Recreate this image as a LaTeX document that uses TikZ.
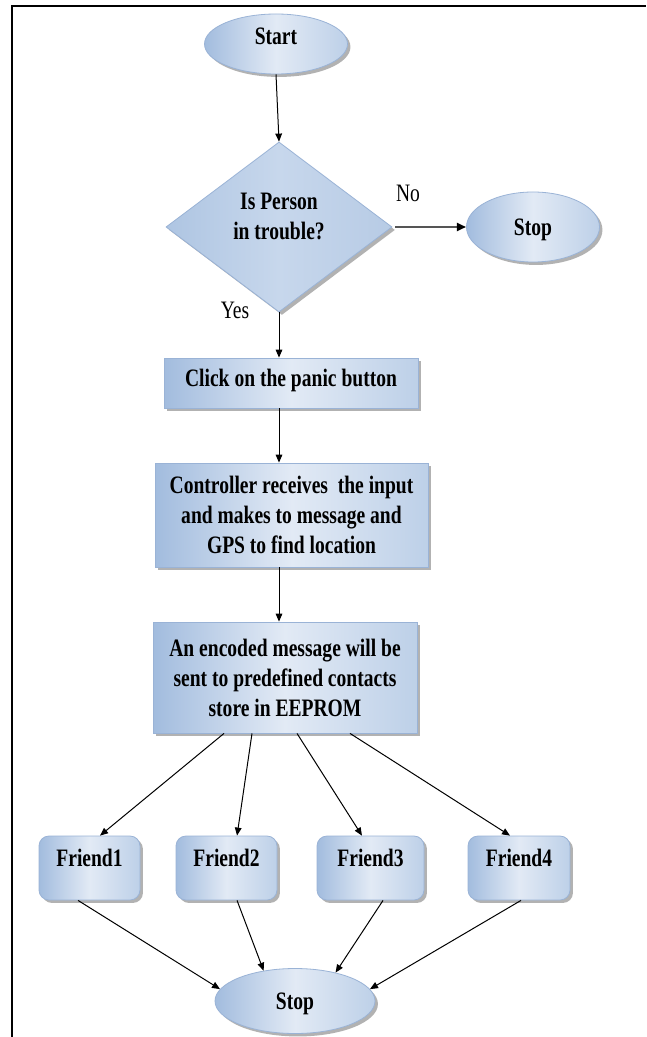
\documentclass[tikz,border=0pt]{standalone}
\usepackage{fontspec}
\setmainfont{Liberation Serif}[FakeStretch=0.78]
\usetikzlibrary{shapes.geometric,arrows.meta,shadows}
\definecolor{shDark}{HTML}{A2BCDE}
\definecolor{shLight}{HTML}{E2EAF5}
\definecolor{shMid}{HTML}{BDD0E8}
\definecolor{shEdge}{HTML}{9AB3D6}
\definecolor{dmDark}{HTML}{AEC5E2}
\definecolor{dmMid}{HTML}{C7D7EC}
\definecolor{dmLight}{HTML}{B7CBE5}
\definecolor{noGray}{HTML}{555555}
\begin{document}
\begin{tikzpicture}[x=0.75pt,y=-0.75pt,
  shapebase/.style={draw=shEdge, line width=0.6pt, left color=shDark, right color=shMid, middle color=shLight,
    drop shadow={shadow xshift=2.2pt,shadow yshift=-2.2pt,fill=black!60,opacity=0.5},
    inner sep=0pt, font=\fontsize{18.8pt}{22.5pt}\selectfont\bfseries},
  term/.style={shapebase, ellipse},
  procbox/.style={shapebase, rectangle},
  friendbox/.style={shapebase, rectangle, rounded corners=7.5pt, minimum height=48pt,
    text height=12.5pt, text depth=15.1pt},
  decision/.style={shapebase, diamond, aspect=1.33, left color=dmDark, right color=dmLight, middle color=dmMid},
  flow/.style={-{Triangle[length=6pt,width=5pt]}, line width=0.75pt, black},
  lbl/.style={font=\fontsize{18.8pt}{22.5pt}\selectfont, inner sep=0pt}
]
\useasboundingbox (0,0) rectangle (646,1037);
\fill[white] (0,0) rectangle (646,1037);
\coordinate (fb) at (11.8,1037);
\coordinate (fc) at (11.8,5.8);
\coordinate (fr) at (646,5.8);
\draw[line width=1.9pt] (fb) -- (fc) -- (fr);

\node[term, minimum width=107.25pt, minimum height=45pt, text height=12.5pt, text depth=12.1pt] (start) at (276,44) {Start};
\node[decision, minimum width=169.5pt, minimum height=127.5pt, align=center] (dec) at (279,227) {Is Person\\in trouble?\\[-6pt]\mbox{}};
\node[term, minimum width=99.75pt, minimum height=52.5pt, text height=12.5pt, text depth=0pt] (stopa) at (533,227) {Stop};
\node[lbl] (no) at (408,193) {No};
\node[lbl] (yes) at (235,310) {Yes};
\node[procbox, minimum width=190.5pt, minimum height=37.5pt, text height=12.5pt, text depth=7.6pt] (click) at (291,383) {Click on the panic button};
\node[procbox, minimum width=204.75pt, minimum height=78pt, align=center] (ctrl) at (291.5,515) {Controller receives\ \ the input\\and makes to message and\\GPS to find location};
\node[procbox, minimum width=198pt, minimum height=83.25pt, align=center] (enc) at (285,677.5) {An encoded message will be\\sent to predefined contacts\\store in EEPROM};
\node[friendbox, minimum width=75.75pt] (f1) at (89.5,868) {Friend1};
\node[friendbox, minimum width=75.75pt] (f2) at (226.5,868) {Friend2};
\node[friendbox, minimum width=80.25pt] (f3) at (370.5,868) {Friend3};
\node[friendbox, minimum width=76.5pt] (f4) at (519,868) {Friend4};
\node[term, minimum width=120pt, minimum height=48.75pt, text height=12.5pt, text depth=0pt] (stopb) at (295,1001) {Stop};

\draw[flow] (start.south) -- (dec.north);
\draw[line width=2pt, noGray, -{Triangle[length=7pt,width=6pt,color=black]}] ([xshift=2pt]dec.east) -- (stopa.west);
\draw[flow] (dec.south) -- (dec.south |- click.north);
\draw[flow] (click.south -| dec.south) -- (ctrl.north -| dec.south);
\draw[flow] (ctrl.south -| dec.south) -- (enc.north -| dec.south);

\draw[flow] ([xshift=-45.75pt]enc.south) -- ([xshift=7.9pt]f1.north);
\draw[flow] ([xshift=-24.75pt]enc.south) -- ([xshift=7.9pt]f2.north);
\draw[flow] ([xshift=9pt]enc.south) -- ([xshift=-6.4pt]f3.north);
\draw[flow] ([xshift=48.75pt]enc.south) -- ([xshift=-6.75pt]f4.north);

\draw[flow] ([xshift=-8.6pt]f1.south) -- (stopb.171);
\draw[flow] ([xshift=7.9pt]f2.south) -- (stopb.136);
\draw[flow] ([xshift=9.4pt]f3.south) -- (stopb.35);
\draw[flow] ([xshift=1.5pt]f4.south) -- (stopb.9);
\end{tikzpicture}
\end{document}
